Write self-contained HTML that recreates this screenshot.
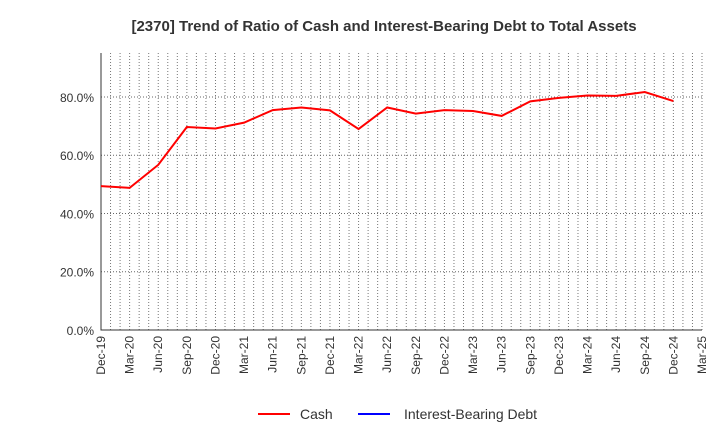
<!DOCTYPE html>
<html><head><meta charset="utf-8"><style>
body{margin:0;background:#fff;font-family:"Liberation Sans",sans-serif}
</style></head><body>
<svg id="c" width="720" height="440" xmlns="http://www.w3.org/2000/svg">
<text x="384" y="31" text-anchor="middle" font-size="15" font-weight="bold" fill="#333">[2370]  Trend of Ratio of Cash and Interest-Bearing Debt to Total Assets</text>
<g id="grid"></g><g id="axes"></g><g id="series"></g>
<g>
<line x1="258" y1="414" x2="290" y2="414" stroke="#f00" stroke-width="2"/>
<text x="300" y="419" font-size="14" fill="#333">Cash</text>
<line x1="358" y1="414" x2="390" y2="414" stroke="#00f" stroke-width="2"/>
<text x="404" y="419" font-size="14" fill="#333">Interest-Bearing Debt</text>
</g>
</svg>
<script>
const categories=["Dec-19","Mar-20","Jun-20","Sep-20","Dec-20","Mar-21","Jun-21","Sep-21","Dec-21","Mar-22","Jun-22","Sep-22","Dec-22","Mar-23","Jun-23","Sep-23","Dec-23","Mar-24","Jun-24","Sep-24","Dec-24","Mar-25"];
const cash=[49.4,48.8,56.7,69.7,69.2,71.2,75.5,76.4,75.4,69.0,76.4,74.3,75.5,75.2,73.5,78.5,79.7,80.5,80.4,81.7,78.6];
const debt=[];
const yTicks=[0,20,40,60,80];
const yTickLabels=["0.0%","20.0%","40.0%","60.0%","80.0%"];
const NS="http://www.w3.org/2000/svg";
const L=101,R=702,T=53,B=330,yMax=95.1;
const x=i=>L+i*(R-L)/(categories.length-1);
const y=v=>B-v/yMax*(B-T);
function mk(tag,attrs,parent){const e=document.createElementNS(NS,tag);for(const k in attrs)e.setAttribute(k,attrs[k]);document.getElementById(parent).appendChild(e);return e;}
const n=(categories.length-1)*3;
for(let m=1;m<=n;m++){const xx=L+m*(R-L)/n;
const g=mk("line",{x1:xx,x2:xx,y1:T,y2:B,stroke:"#777","stroke-dasharray":"1,2","stroke-width":1},"grid");

}
yTicks.forEach((v,i)=>{if(v>0){const g=mk("line",{x1:L,x2:R,y1:y(v),y2:y(v),stroke:"#666","stroke-dasharray":"1,2"},"grid");

}
const t=mk("text",{x:L-7,y:y(v)+5,"text-anchor":"end","font-size":12,fill:"#333"},"axes");t.textContent=yTickLabels[i];

});
const ax=mk("path",{d:`M${L},${T}V${B}H${R}`,fill:"none",stroke:"#333","stroke-width":1},"axes");


categories.forEach((c,i)=>{const t=mk("text",{transform:`translate(${x(i)+4},${B+6}) rotate(-90)`,"text-anchor":"end","font-size":12,fill:"#333"},"axes");t.textContent=c;

});
const p=mk("polyline",{points:cash.map((v,i)=>x(i)+","+y(v)).join(" "),fill:"none",stroke:"#f00","stroke-width":2},"series");


if(debt.length){const d=mk("polyline",{points:debt.map((v,i)=>x(i)+","+y(v)).join(" "),fill:"none",stroke:"#00f","stroke-width":2},"series");

}
</script>
</body></html>
